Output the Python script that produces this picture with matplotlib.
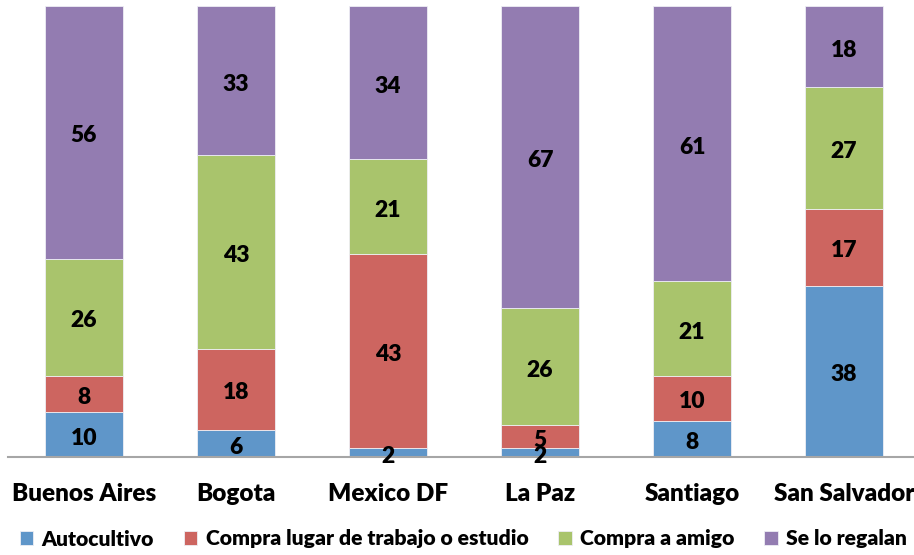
import numpy as np
import matplotlib.pyplot as plt

ciudades = ['Buenos Aires', 'Bogota', 'Mexico DF', 'La Paz', 'Santiago', 'San Salvador']
series = ['Autocultivo', 'Compra lugar de trabajo o estudio', 'Compra a amigo', 'Se lo regalan']
autocultivo = [10, 6, 2, 2, 8, 38]
compra_trabajo = [8, 18, 43, 5, 10, 17]
compra_amigo = [26, 43, 21, 26, 21, 27]
regalan = [56, 33, 34, 67, 61, 18]
colores = ['#5F96C9', '#CD6560', '#A9C46C', '#937CB1']

plt.rcParams['font.family'] = ['Lato', 'DejaVu Sans']

fig = plt.figure(figsize=(9.14, 5.55), dpi=100)
ax = fig.add_axes([8 / 914, 1 - 457 / 555, 912 / 914, 451 / 555])

x = np.arange(len(ciudades))
bottom = np.zeros(len(ciudades))
for nombre, vals, col in zip(series, [autocultivo, compra_trabajo, compra_amigo, regalan], colores):
    vals = np.array(vals)
    ax.bar(x, vals, 0.51, bottom=bottom, color=col, edgecolor='#EEEEF4',
           linewidth=0.6, label=nombre)
    # etiqueta centrada en cada tramo
    for xi, b, v in zip(x, bottom, vals):
        ax.text(xi, b + v / 2 - 0.8, str(v), ha='center', va='center',
                fontsize=16.5, fontweight='heavy', color='black')
    bottom += vals

ax.set_xlim(-0.5, 5.5)
ax.set_ylim(0, 100)
ax.set_yticks([])
ax.set_xticks(x)
ax.set_xticklabels(ciudades, fontsize=17.5, fontweight='heavy')
ax.tick_params(axis='x', length=0, pad=19)
for s in ['top', 'right', 'left']:
    ax.spines[s].set_visible(False)
ax.spines['bottom'].set_color('#A6A6A6')
ax.spines['bottom'].set_linewidth(1.5)

fig.legend(loc='center', bbox_to_anchor=(0.507, 1 - 539 / 555), ncol=4, frameon=False,
           prop={'weight': 'heavy', 'size': 15.2}, handlelength=0.65, handleheight=0.65,
           handletextpad=0.4, columnspacing=1.4)

fig.savefig('out.png', dpi=100)
